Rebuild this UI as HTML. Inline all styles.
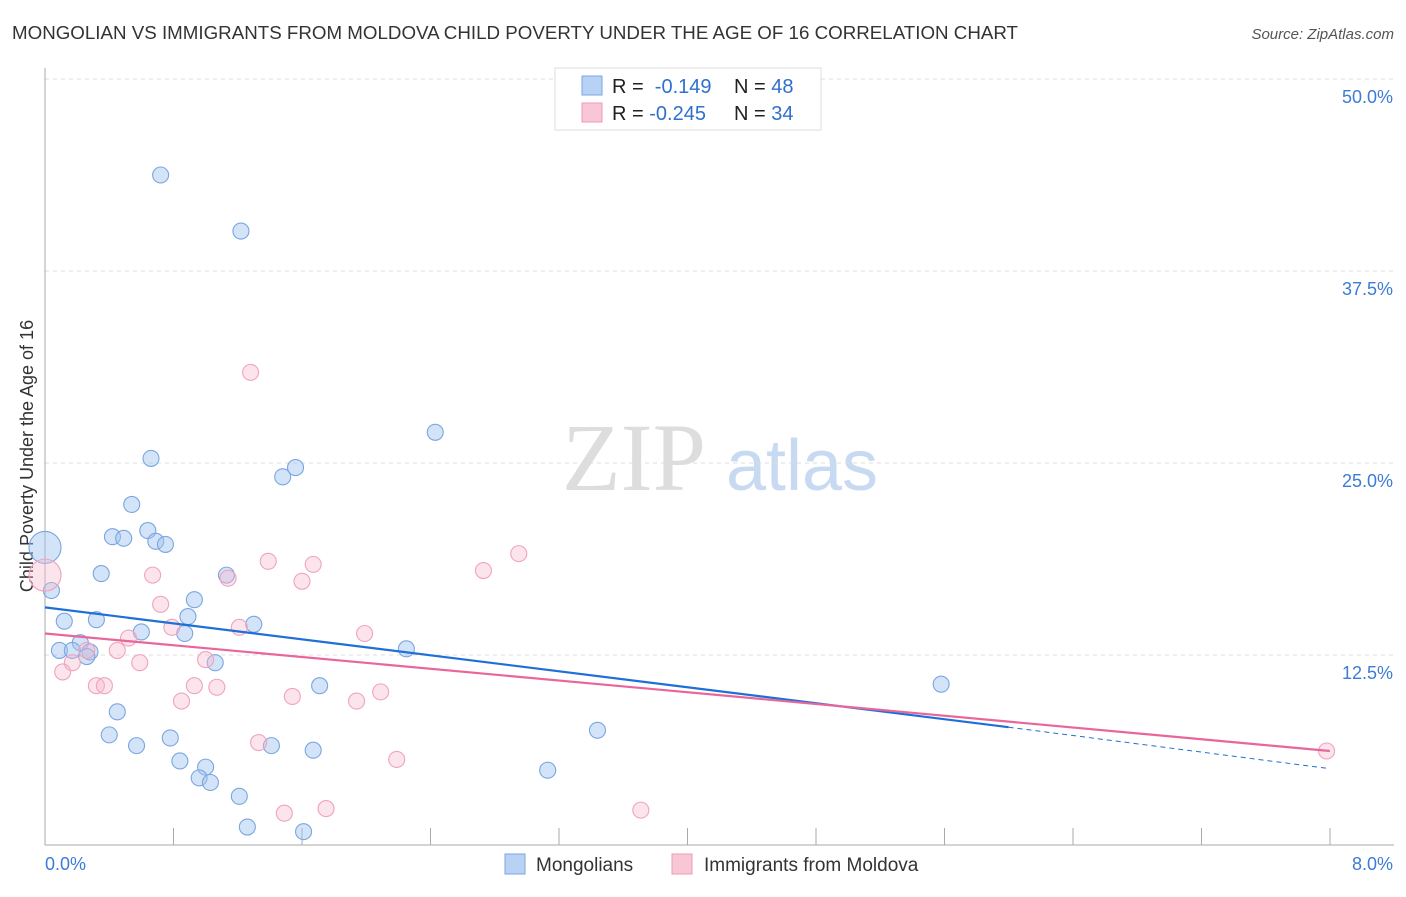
<!DOCTYPE html>
<html><head><meta charset="utf-8"><style>
body{margin:0;background:#fff;font-family:"Liberation Sans",sans-serif;}
</style></head><body>
<svg id="c" width="1406" height="892" xmlns="http://www.w3.org/2000/svg" style="font-family:'Liberation Sans',sans-serif">
<text x="12" y="39" font-size="18" fill="#333" textLength="1006" lengthAdjust="spacingAndGlyphs">MONGOLIAN VS IMMIGRANTS FROM MOLDOVA CHILD POVERTY UNDER THE AGE OF 16 CORRELATION CHART</text>
<text x="1394" y="39" font-size="15" fill="#555" font-style="italic" text-anchor="end">Source: ZipAtlas.com</text>
<text x="33" y="456" font-size="18" fill="#333" text-anchor="middle" transform="rotate(-90 33 456)">Child Poverty Under the Age of 16</text>
<g><text x="634" y="490" font-size="96" fill="#ddd" font-family="Liberation Serif" text-anchor="middle">ZIP</text><text x="802" y="490" font-size="72" fill="#c8daf2" text-anchor="middle">atlas</text></g>
<g id="grid"></g><g id="axes"></g><g id="pts"></g><g id="lines"></g>
<g>
<rect x="555" y="68" width="266" height="62" fill="#fff" stroke="#ddd"/>
<rect x="582" y="76" width="20" height="19" fill="#b8d2f5" stroke="#7aa6e0"/>
<rect x="582" y="103" width="20" height="19" fill="#f9c6d6" stroke="#ee9ab5"/>
<text x="612" y="93" font-size="20" fill="#222">R = <tspan fill="#2f6fce">&#160;-0.149</tspan><tspan x="734">N = </tspan><tspan fill="#2f6fce">48</tspan></text>
<text x="612" y="120" font-size="20" fill="#222">R = <tspan fill="#2f6fce">-0.245</tspan><tspan x="734">N = </tspan><tspan fill="#2f6fce">34</tspan></text>
</g>
<g>
<rect x="505" y="854" width="20" height="20" fill="#b8d2f5" stroke="#7aa6e0"/>
<text x="536" y="871" font-size="19" fill="#333">Mongolians</text>
<rect x="672" y="854" width="20" height="20" fill="#f9c6d6" stroke="#ee9ab5"/>
<text x="704" y="871" font-size="19" fill="#333">Immigrants from Moldova</text>
</g>
</svg>
<script>
const yTicks=[50,37.5,25,12.5];
const xTickLabels=["0.0%","8.0%"];
const blueX=[0.72,1.22,0.66,0.54,0.42,0.49,0.64,0.69,0.75,0.35,0.04,0.0,1.13,0.93,0.89,1.30,0.87,0.60,0.12,0.32,0.22,0.09,0.17,0.28,0.26,1.06,2.25,2.43,1.48,1.56,1.71,0.45,0.40,0.57,0.78,0.84,1.00,0.96,1.03,1.21,1.26,1.61,1.41,1.67,3.13,3.44,5.58];
const blueY=[43.75,40.1,25.3,22.3,20.2,20.1,20.6,19.9,19.7,17.8,16.7,19.5,17.7,16.1,15.0,14.5,13.9,14.0,14.7,14.8,13.3,12.8,12.8,12.7,12.4,12.0,12.9,27.0,24.1,24.7,10.5,8.8,7.3,6.6,7.1,5.6,5.2,4.5,4.2,3.3,1.3,1.0,6.6,6.3,5.0,7.6,10.6];
const pinkX=[1.28,0,0.11,0.17,0.26,0.32,0.37,0.45,0.52,0.59,0.67,0.72,0.79,0.85,0.93,1.00,1.07,1.14,1.21,1.33,1.39,1.49,1.54,1.60,1.67,1.75,1.94,1.99,2.09,2.19,2.73,2.95,3.71,7.98];
const pinkY=[30.9,17.7,11.4,12.0,12.8,10.5,10.5,12.8,13.6,12.0,17.7,15.8,14.3,9.5,10.5,12.2,10.4,17.5,14.3,6.8,18.6,2.2,9.8,17.3,18.4,2.5,9.5,13.9,10.1,5.7,18.0,19.1,2.4,6.25];
const blueTrend=[15.6,7.8,5.1]; // at x=0, 6.0, 8.0
const pinkTrend=[13.9,6.25]; // at x=0, 8.0
const sx=v=>45+v*160.6, sy=v=>847-v*15.36;
const NS="http://www.w3.org/2000/svg";
function mk(t,a,p){const e=document.createElementNS(NS,t);for(const k in a)e.setAttribute(k,a[k]);p.appendChild(e);return e;}
const grid=document.getElementById('grid'),axes=document.getElementById('axes'),pts=document.getElementById('pts'),lines=document.getElementById('lines');
yTicks.forEach(v=>{const l=mk('line',{x1:45,x2:1394,y1:sy(v),y2:sy(v),stroke:'#ddd','stroke-dasharray':'4,4'},grid);


const t=mk('text',{x:1393,y:sy(v)+24,'font-size':18,fill:'#3d7bd6','text-anchor':'end'},grid);t.textContent=v.toFixed(1)+'%';

});
const al=mk('line',{x1:45,x2:45,y1:68,y2:845,stroke:'#aaa'},axes);


const bl=mk('line',{x1:45,x2:1394,y1:845,y2:845,stroke:'#aaa'},axes);


for(let i=1;i<=10;i++){const x=45+i*128.5;const t=mk('line',{x1:x,x2:x,y1:828,y2:845,stroke:'#aaa'},axes);

}
[[0,'start',45],[8,'end',1393]].forEach((d,i)=>{const t=mk('text',{x:d[2],y:870,'font-size':18,fill:'#3d7bd6','text-anchor':d[1]},axes);t.textContent=xTickLabels[i];

});
blueX.forEach((x,i)=>{const big=x===0;const c=mk('circle',{cx:sx(x),cy:sy(blueY[i]),r:big?16:8,fill:'rgba(160,196,240,0.45)',stroke:'#7aa6e0','stroke-width':1.1},pts);

});
pinkX.forEach((x,i)=>{const big=x===0;const c=mk('circle',{cx:sx(x),cy:sy(pinkY[i]),r:big?16:8,fill:'rgba(247,185,205,0.38)',stroke:'#f0a3bc','stroke-width':1.1},pts);

});
const b1=mk('line',{x1:sx(0),y1:sy(blueTrend[0]),x2:sx(6),y2:sy(blueTrend[1]),stroke:'#1f6fd6','stroke-width':2.2},lines);


const b2=mk('line',{x1:sx(6),y1:sy(blueTrend[1]),x2:sx(8),y2:sy(blueTrend[2]),stroke:'#1f6fd6','stroke-width':1,'stroke-dasharray':'5,4'},lines);


const p1=mk('line',{x1:sx(0),y1:sy(pinkTrend[0]),x2:sx(8),y2:sy(pinkTrend[1]),stroke:'#e8669a','stroke-width':2.2},lines);


</script>
</body></html>
